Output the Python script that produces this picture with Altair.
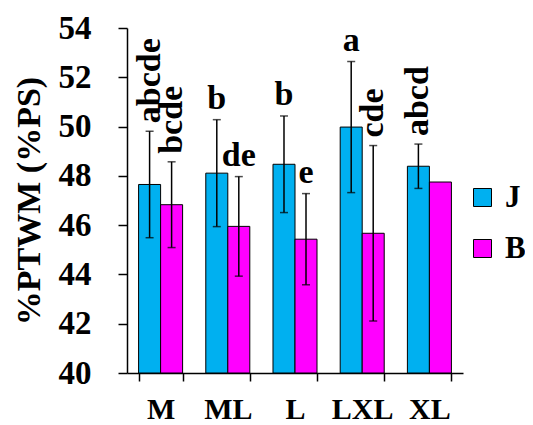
import altair as alt
import pandas as pd

cats = ["M", "ML", "L", "LXL", "XL"]
series = ["J", "B"]
j_mean = [47.65, 48.11, 48.47, 49.98, 48.39]
j_err = [2.16, 2.17, 1.96, 2.66, 0.90]
j_lab = ["abcde", "b", "b", "a", "abcd"]
b_mean = [46.83, 45.95, 45.43, 45.67, 47.75]
b_err = [1.74, 2.02, 1.85, 3.56, None]
b_lab = ["bcde", "de", "e", "cde", ""]
y_ticks = [40, 42, 44, 46, 48, 50, 52, 54]
colors = ["#00B0F0", "#FF00FF"]

rows = []
for i, c in enumerate(cats):
    rows.append(dict(cat=c, s="J", mean=j_mean[i], err=j_err[i], lab=j_lab[i]))
    rows.append(dict(cat=c, s="B", mean=b_mean[i], err=b_err[i], lab=b_lab[i]))
df = pd.DataFrame(rows)

FONT = "'Liberation Serif', 'Times New Roman', 'DejaVu Serif', serif"
TITLE = "%PTWM (%PS)"

x = alt.X(
    "cat:N", sort=cats, title=None,
    scale=alt.Scale(paddingInner=0.345, paddingOuter=0.1725),
    axis=alt.Axis(labelAngle=0, tickBand="extent", tickSize=8, labelFontSize=30,
                  labelPadding=13),
)
xo = alt.XOffset("s:N", sort=series, scale=alt.Scale(paddingInner=0, paddingOuter=0))
yscale = alt.Scale(domain=[40, 54], nice=False, zero=False)
yaxis = alt.Axis(values=y_ticks, tickSize=9, grid=False, labelFontSize=33,
                 labelPadding=27, titleFontSize=34, titlePadding=12)

base = alt.Chart(df)

bars = base.mark_bar(stroke="black", strokeWidth=1).encode(
    x=x, xOffset=xo,
    y=alt.Y("mean:Q", scale=yscale, axis=yaxis, title=TITLE),
    y2=alt.datum(40),
    color=alt.Color("s:N", sort=series,
                    scale=alt.Scale(domain=series, range=colors),
                    legend=alt.Legend(title=None, orient="none", legendX=340, legendY=154,
                                      symbolType="square", symbolSize=324,
                                      symbolStrokeColor="black", symbolStrokeWidth=1,
                                      symbolOpacity=1, labelFontSize=31,
                                      labelOffset=7, rowPadding=19, padding=0)),
)

eb = base.transform_filter("isValid(datum.err)").transform_calculate(
    lo="datum.mean - datum.err", hi="datum.mean + datum.err"
)
rule = eb.mark_rule(color="black", strokeWidth=1.5).encode(
    x=x, xOffset=xo,
    y=alt.Y("lo:Q", scale=yscale, axis=yaxis, title=TITLE),
    y2="hi:Q",
)
cap_hi = eb.mark_tick(color="black", thickness=1.5, size=8).encode(
    x=x, xOffset=xo, y=alt.Y("hi:Q", scale=yscale, axis=yaxis, title=TITLE))
cap_lo = eb.mark_tick(color="black", thickness=1.5, size=8).encode(
    x=x, xOffset=xo, y=alt.Y("lo:Q", scale=yscale, axis=yaxis, title=TITLE))

lab = base.transform_calculate(
    ty="isValid(datum.err) ? datum.mean + datum.err : datum.mean"
)
text_h = lab.transform_filter("length(datum.lab) > 0 && length(datum.lab) < 3").mark_text(
    fontSize=34, align="center", baseline="alphabetic", dy=-11,
).encode(x=x, xOffset=xo, y=alt.Y("ty:Q", scale=yscale, axis=yaxis, title=TITLE), text="lab:N")
text_v = lab.transform_filter("length(datum.lab) >= 3").mark_text(
    fontSize=34, align="left", baseline="middle", angle=270, dx=8,
).encode(x=x, xOffset=xo, y=alt.Y("ty:Q", scale=yscale, axis=yaxis, title=TITLE), text="lab:N")

chart = alt.layer(bars, rule, cap_hi, cap_lo, text_h, text_v).properties(
    width=336, height=345,
    autosize=alt.AutoSizeParams(type="none"),
    padding={"left": 119, "top": 20, "right": 62, "bottom": 50},
).configure(
    font=FONT, background="white"
).configure_view(
    stroke=None
).configure_axis(
    labelFont=FONT, titleFont=FONT, labelFontWeight="bold", titleFontWeight="bold",
    labelColor="black", titleColor="black", domainColor="black", tickColor="black",
    domainWidth=1.5, tickWidth=1.5,
).configure_legend(
    labelFont=FONT, labelFontWeight="bold", labelColor="black",
).configure_text(
    font=FONT, fontWeight="bold", color="black",
)

chart.save("out.html", embed_options={"renderer": "svg", "actions": False})
